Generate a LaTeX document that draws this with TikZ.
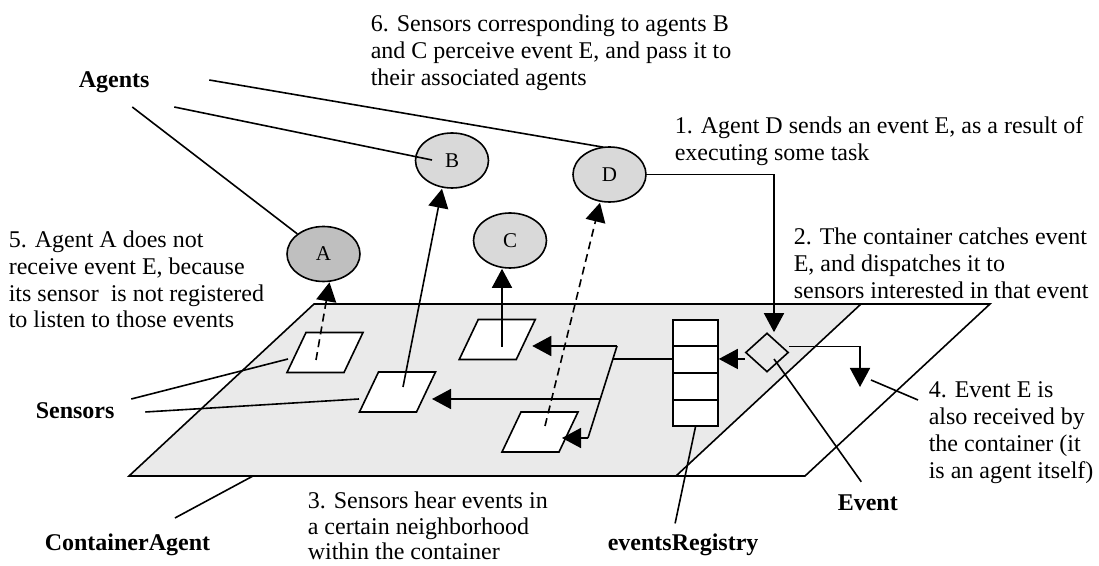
\documentclass[tikz,border=0pt]{standalone}
\usepackage{fontspec}
\setmainfont{Liberation Serif}
\usetikzlibrary{arrows.meta,positioning,shapes.geometric,calc}
\definecolor{agentgray}{RGB}{217,217,217}
\definecolor{agentdark}{RGB}{191,191,191}
\definecolor{planegray}{RGB}{234,234,234}
\tikzset{
  agent/.style={ellipse, draw, fill=agentgray, minimum width=36.5pt, minimum height=27.5pt, inner sep=0pt, font=\fontsize{10.5}{12}\selectfont},
  sensorbox/.style={draw, fill=white},
  flow/.style={-{Triangle[length=9.5pt,width=10pt]}},
  dashflow/.style={flow, dash pattern=on 4pt off 2.5pt},
  note/.style={anchor=north west, align=left, inner sep=0pt, font=\fontsize{12}{13.4}\selectfont},
  tag/.style={anchor=west, inner sep=0pt, text height=8.2pt, text depth=2.6pt, font=\fontsize{12}{13}\selectfont\bfseries}
}
\begin{document}
\begin{tikzpicture}[x=0.5pt, y=-0.5pt, line width=0.8pt]
  \useasboundingbox (0,0) rectangle (1099,566);

  % Container planes
  \coordinate (pBL) at (129,476);
  \fill[planegray] (314,304) -- (861,304) -- (676,476) -- (pBL) -- cycle;
  \draw (314,304) -- (990,304) -- (805,476) -- (pBL) -- cycle;
  \draw (861,304) -- (676,476);

  % Sensors
  \coordinate (s1) at (325,352.5);
  \coordinate (s2) at (397.5,392);
  \coordinate (s3) at (497.25,339.5);
  \coordinate (s4) at (540,432);
  \foreach \s in {s1,s2,s3,s4}
    \draw[sensorbox] ($(\s)+(-38,20)$) -- ++(57,0) -- ++(19,-40) -- ++(-57,0) -- cycle;

  % Registry and event
  \node[draw, fill=white, minimum width=22.5pt, minimum height=53pt, inner sep=0pt] (reg) at (695.5,373) {};
  \foreach \k in {1,2,3}
    \draw ($(reg.north west)!\k/4!(reg.south west)$) -- ($(reg.north east)!\k/4!(reg.south east)$);
  \node[diamond, draw, minimum width=21.5pt, minimum height=19.5pt, inner sep=0pt] (event) at (767,352.5) {};

  % Agents
  \node[agent, fill=agentdark] (A) at (323.5,254) {A};
  \node[agent] (B) at (452,160.5) {B};
  \node[agent] (C) at (510,240.5) {C};
  \node[agent] (D) at (609.5,174.5) {D};

  % Sensors pass events to agents
  \draw[dashflow] ($(s1)+(-9,7.5)$) -- ($(A.south)+(6,0)$);
  \draw[flow] ($(s2)+(5.5,-5)$) -- ($(B.south)+(-10,0)$);
  \coordinate (s3up) at ($(s3)+(4.75,7.5)$);
  \draw[flow] (s3up) -- (s3up |- C.south);
  \draw[dashflow] ($(s4)+(5,-6)$) -- ($(D.south)+(-9.5,0)$);

  % Event dispatch
  \coordinate (busTop) at (617,346);
  \coordinate (busBot) at (588,438);
  \coordinate (busIn) at ($(busTop)!0.141!(busBot)$);
  \coordinate (busMid) at ($(busTop)!0.576!(busBot)$);
  \draw[flow] (D.east) -| ($(event.north)+(7,0)$);
  \draw[flow] (event.west |- busIn) -- (reg.east |- busIn);
  \draw (reg.west |- busIn) -- (busIn);
  \draw (busTop) -- (busBot);
  \draw[flow] (busTop) -- ($(s3)+(35,6.5)$);
  \draw[flow] (busMid) -- ($(s2)+(34.5,7)$);
  \draw[flow] (busBot) -- ($(s4)+(22,6)$);
  \coordinate (inbox) at (860,387);
  \draw[flow] ($(event.east)+(0,-6)$) -| (inbox);

  % Labels
  \node[tag] (agents) at (78,82) {Agents};
  \node[tag] (sensors) at (35,413) {Sensors};
  \node[tag] (container) at (44,545) {ContainerAgent};
  \node[tag] (registry) at (607,545) {eventsRegistry};
  \node[tag] (eventtag) at (837,505) {Event};

  % Leader lines
  \draw ($(agents.east)+(59,-2)$) -- ($(D.north)+(-6,1)$);
  \draw ($(agents.east)+(24,25)$) -- ($(B.center)+(-20,-0.5)$);
  \draw ($(agents.east)+(-18,25)$) -- (A);
  \draw ($(sensors.east)+(16,-14)$) -- ($(s1)+(-37,6.5)$);
  \draw ($(sensors.east)+(30,-1)$) -- ($(s2)+(-38.5,7)$);
  \draw ($(container.east)+(-36,-27)$) -- ($(pBL)+(124,0)$);
  \draw ($(registry.north)+(-8,-10)$) -- (reg.south);
  \draw ($(eventtag.north)+(-6.5,-11.6)$) -- ($(event.center)+(7,6.5)$);

  % Notes
  \node[note] (n6) at (370,14) {6. Sensors corresponding to agents B\\and C perceive event E, and pass it to\\their associated agents};
  \node[note] (n1) at (674,116) {1. Agent D sends an event E, as a result of\\executing some task};
  \node[note] (n2) at (793,227) {2. The container catches event\\E, and dispatches it to\\sensors interested in that event};
  \node[note] (n5) at (8,230) {5. Agent A does not\\receive event E, because\\its sensor\ \ is not registered\\to listen to those events};
  \node[note, font=\fontsize{12}{12.8}\selectfont] (n3) at (307,491) {3. Sensors hear events in\\a certain neighborhood\\within the container};
  \node[note] (n4) at (928,381) {4. Event E is\\also received by\\the container (it\\is an agent itself)};
  \draw ($(n4.north west)+(-10,19)$) -- ($(inbox)+(11,-7)$);
\end{tikzpicture}
\end{document}
